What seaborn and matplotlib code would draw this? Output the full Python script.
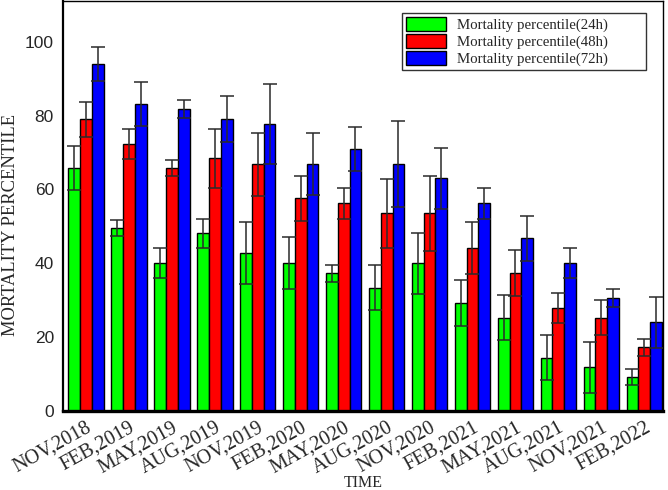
import numpy as np
import pandas as pd
import matplotlib
matplotlib.use("Agg")
import matplotlib.pyplot as plt
import seaborn as sns

# --- data ---
periods = ["NOV,2018", "FEB,2019", "MAY,2019", "AUG,2019", "NOV,2019", "FEB,2020", "MAY,2020",
           "AUG,2020", "NOV,2020", "FEB,2021", "MAY,2021", "AUG,2021", "NOV,2021", "FEB,2022"]
series = ["Mortality percentile(24h)", "Mortality percentile(48h)", "Mortality percentile(72h)"]

mort_24h = [65.8, 49.5, 40.1, 48.1, 42.8, 40.0, 37.3, 33.4, 40.0, 29.3, 25.3, 14.5, 11.9, 9.2]
mort_48h = [79.0, 72.3, 65.7, 68.4, 66.8, 57.6, 56.2, 53.5, 53.5, 44.1, 37.4, 28.0, 25.3, 17.3]
mort_72h = [93.9, 83.2, 81.7, 79.0, 77.7, 66.9, 71.0, 66.9, 63.0, 56.2, 46.8, 40.1, 30.7, 24.1]

err_24h = [6.0, 2.2, 4.0, 4.0, 8.4, 7.0, 2.3, 6.1, 8.2, 6.3, 6.1, 6.2, 6.9, 2.2]
err_48h = [4.7, 4.0, 2.2, 8.0, 8.6, 6.1, 4.1, 9.4, 10.2, 7.0, 6.2, 4.1, 4.8, 2.3]
err_72h = [4.6, 6.0, 2.4, 6.2, 10.8, 8.5, 6.0, 11.7, 8.3, 4.1, 6.1, 4.0, 2.4, 6.9]

colors = ["#00FF00", "#FF0000", "#0000FF"]

df = pd.DataFrame({
    "Time": periods * 3,
    "Series": np.repeat(series, len(periods)),
    "Value": mort_24h + mort_48h + mort_72h,
})
errs = [err_24h, err_48h, err_72h]

serif = ["Liberation Serif", "DejaVu Serif"]

sns.set_style("white")
plt.rcParams["font.family"] = ["Liberation Sans", "DejaVu Sans"]

fig = plt.figure(figsize=(6.68, 4.9), dpi=100)
ax = fig.add_axes([0.0943, 0.161, 0.898, 0.837])

sns.barplot(data=df, x="Time", y="Value", hue="Series", palette=colors,
            width=0.83, edgecolor="black", linewidth=1.0, errorbar=None,
            saturation=1, ax=ax)

# error bars on top of each bar
for cont, e in zip(ax.containers, errs):
    xs = [p.get_x() + p.get_width() / 2 for p in cont.patches]
    hs = [p.get_height() for p in cont.patches]
    ax.errorbar(xs, hs, yerr=e, fmt="none", ecolor="#2a2a2a", elinewidth=1.1,
                capsize=5, capthick=1.1, zorder=5)

ax.set_ylim(0, 111)
ax.set_xlim(-0.53, 13.43)
ax.set_yticks([0, 20, 40, 60, 80, 100])
ax.tick_params(axis="both", length=0)
ax.tick_params(axis="y", labelsize=12.5, pad=6.5)
ax.tick_params(axis="x", pad=5)

for lbl in ax.get_xticklabels():
    lbl.set_rotation(29)
    lbl.set_ha("right")
    lbl.set_va("top")
    lbl.set_rotation_mode("anchor")
    lbl.set_family(serif)
    lbl.set_fontsize(14.5)

ax.set_xlabel("TIME", family=serif, fontsize=11.5)
ax.xaxis.set_label_coords(0.5, -0.155)
ax.set_ylabel("MORTALITY PERCENTILE", family=serif, fontsize=13.3)
ax.yaxis.set_label_coords(-0.074, 0.454)

for side in ["top", "right", "left", "bottom"]:
    ax.spines[side].set_visible(True)
    ax.spines[side].set_color("black")
ax.spines["bottom"].set_linewidth(2.4)
ax.spines["left"].set_linewidth(1.6)
ax.spines["top"].set_linewidth(1.0)
ax.spines["right"].set_linewidth(1.0)

leg = ax.legend(loc="upper right", bbox_to_anchor=(0.565, 0.827, 0.407, 0.144),
                mode="expand", frameon=True, fancybox=False, shadow=False,
                edgecolor="black", prop={"family": serif, "size": 10.7},
                handlelength=2.7, handleheight=1.1, labelspacing=0.12,
                handletextpad=0.75, borderpad=0.25, borderaxespad=0)
leg.get_frame().set_linewidth(1.0)

fig.savefig("out.png", dpi=100)
